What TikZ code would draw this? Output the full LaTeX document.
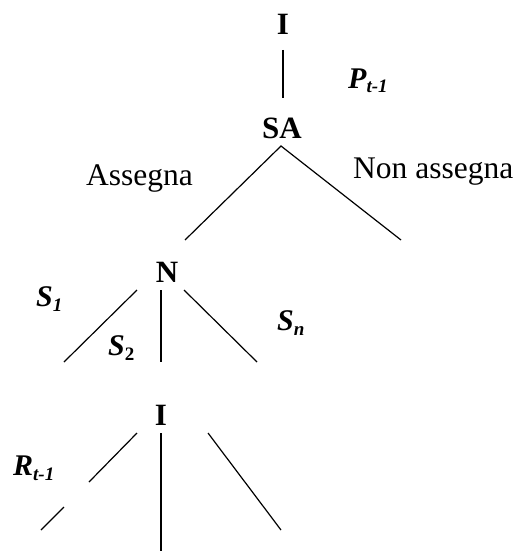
\documentclass[tikz,border=0pt]{standalone}
\usepackage{fontspec}
\setmainfont{Liberation Serif}
\newcommand\sbx[1]{\raisebox{-5pt}{\fontsize{19}{22}\selectfont #1}}
\begin{document}
\begin{tikzpicture}[x=1pt,y=-1pt,
  lab/.style={font=\fontsize{31}{36}\selectfont\bfseries, anchor=base, inner sep=0pt},
  txt/.style={font=\fontsize{31.5}{36}\selectfont, anchor=base west, inner sep=0pt},
  var/.style={font=\fontsize{30}{36}\selectfont\bfseries\itshape, anchor=base west, inner sep=0pt},
  edge/.style={line width=1.2pt}]
\useasboundingbox (0,0) rectangle (515,551);
% nodes
\node[lab] (I1) at (283,35) {I};
\node[lab] (SA) at (282,138) {SA};
\node[lab] (N) at (167,282) {N};
\node[lab] (I2) at (161,425) {I};
% labels
\node[var] (P) at (348,88) {P\sbx{t-1}};
\node[txt] (as) at (86,185) {Assegna};
\node[txt] (nas) at (353,178) {Non assegna};
\node[var] (S1) at (36,306) {S\sbx{1}};
\node[var] (S2) at (108,355) {S\sbx{\upshape 2}};
\node[var] (Sn) at (277,330) {S\sbx{n}};
\node[var] (R) at (13,475) {R\sbx{t-1}};
% coordinates
\coordinate (a0) at (283,50); \coordinate (a1) at (283,98);
\coordinate (b0) at (281,146); \coordinate (bL) at (185,240); \coordinate (bR) at (401,240);
\coordinate (c0) at (137,290); \coordinate (c1) at (64,362);
\coordinate (d0) at (161,290); \coordinate (d1) at (161,362);
\coordinate (e0) at (184,290); \coordinate (e1) at (257,362);
\coordinate (f0) at (137,433); \coordinate (f1) at (89,482);
\coordinate (f2) at (64,507); \coordinate (f3) at (41,530);
\coordinate (g0) at (161,433); \coordinate (g1) at (161,551);
\coordinate (h0) at (208,433); \coordinate (h1) at (281,530);
% edges
\draw[edge] (a0) -- (a1);
\draw[edge] (bL) -- (b0) -- (bR);
\draw[edge] (c0) -- (c1);
\draw[edge] (d0) -- (d1);
\draw[edge] (e0) -- (e1);
\draw[edge] (f0) -- (f1);
\draw[edge] (f2) -- (f3);
\draw[edge] (g0) -- (g1);
\draw[edge] (h0) -- (h1);
\end{tikzpicture}
\end{document}
